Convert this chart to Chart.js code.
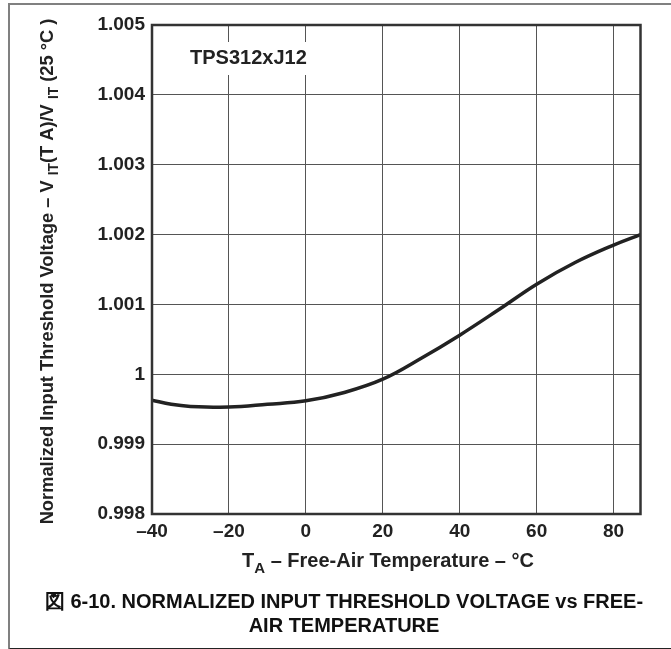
<!DOCTYPE html>
<html>
<head>
<meta charset="utf-8">
<script src="https://cdn.jsdelivr.net/npm/chart.js@4.4.1/dist/chart.umd.min.js"></script>
<style>
  html, body { margin: 0; padding: 0; background: #fff; }
  #wrap { position: relative; width: 671px; height: 649px; overflow: hidden; }
  #frame { position: absolute; left: 8px; top: 3px; width: 680px; height: 643px;
           border-top: 2px solid #808080; border-left: 2px solid #808080; border-bottom: 2px solid #222; }
  canvas { position: absolute; left: 0; top: 0; }
</style>
</head>
<body>
<div id="wrap">
  <div id="frame"></div>
  <canvas id="chart" width="671" height="649"></canvas>
</div>
<script>
// data
var temps = [-40, -35, -30, -20, -10, 0, 10, 20, 30, 40, 50, 60, 70, 80, 87];
var ratio = [0.99963, 0.99957, 0.99954, 0.99953, 0.99957, 0.99962, 0.99974, 0.99993,
             1.00023, 1.00056, 1.00092, 1.00129, 1.00160, 1.00185, 1.00200];

var xTicks = [-40, -20, 0, 20, 40, 60, 80];
var xTickLabels = ['–40', '–20', '0', '20', '40', '60', '80'];
var yTicks = [0.998, 0.999, 1, 1.001, 1.002, 1.003, 1.004, 1.005];
var yTickLabels = ['0.998', '0.999', '1', '1.001', '1.002', '1.003', '1.004', '1.005'];

var deviceName = 'TPS312xJ12';
var captionLines = ['図 6-10. NORMALIZED INPUT THRESHOLD VOLTAGE vs FREE-', 'AIR TEMPERATURE'];

var FONT = '"Liberation Sans", Arial, Helvetica, sans-serif';

// draws text pieces in a row, some of them as subscripts
function drawPieces(ctx, pieces, x, y, size) {
    var total = 0;
    pieces.forEach(function (p) {
        ctx.font = 'bold ' + (p.sub ? size * 0.75 : size) + 'px ' + FONT;
        total += ctx.measureText(p.t).width;
    });
    var cx = x - total / 2;
    pieces.forEach(function (p) {
        ctx.font = 'bold ' + (p.sub ? size * 0.75 : size) + 'px ' + FONT;
        ctx.fillText(p.t, cx, y + (p.sub ? size * 0.3 : 0));
        cx += ctx.measureText(p.t).width;
    });
}

var extras = {
    id: 'extras',
    afterDraw: function (chart) {
        var ctx = chart.ctx;
        var a = chart.chartArea;
        ctx.save();

        // frame round the plot
        ctx.strokeStyle = '#333';
        ctx.lineWidth = 2.5;
        ctx.strokeRect(a.left, a.top, a.right - a.left, a.bottom - a.top);

        // device label on white
        ctx.font = 'bold 20px ' + FONT;
        var w = ctx.measureText(deviceName).width;
        ctx.fillStyle = '#fff';
        ctx.fillRect(184, 42, w + 12, 33);
        ctx.fillStyle = '#222';
        ctx.textBaseline = 'middle';
        ctx.textAlign = 'left';
        ctx.fillText(deviceName, 190, 58);

        // x axis title
        ctx.textBaseline = 'alphabetic';
        drawPieces(ctx, [
            { t: 'T' }, { t: 'A', sub: true }, { t: ' – Free-Air Temperature – °C' }
        ], 388, 567, 20);

        // y axis title
        ctx.save();
        ctx.translate(53, (a.top + a.bottom) / 2 + 2);
        ctx.rotate(-Math.PI / 2);
        drawPieces(ctx, [
            { t: 'Normalized Input Threshold Voltage – V ' }, { t: 'IT', sub: true },
            { t: '(T A)/V ' }, { t: 'IT', sub: true }, { t: ' (25 °C )' }
        ], 0, 0, 18.3);
        ctx.restore();

        // caption
        ctx.fillStyle = '#111';
        ctx.textAlign = 'center';
        ctx.font = 'bold 20px ' + FONT;
        ctx.fillText(captionLines[0], 344, 608);
        ctx.fillText(captionLines[1], 344, 632);
        ctx.restore();
    }
};

var ctx = document.getElementById('chart').getContext('2d');
var chart = new Chart(ctx, {
    type: 'line',
    data: {
        datasets: [{
            data: temps.map(function (t, i) { return { x: t, y: ratio[i] }; }),
            borderColor: '#222',
            borderWidth: 3.5,
            pointRadius: 0,
            tension: 0.4,
            fill: false
        }]
    },
    options: {
        responsive: false,
        animation: false,
        layout: { padding: { left: 0, top: 25, right: 30.5, bottom: 0 } },
        plugins: { legend: { display: false }, tooltip: { enabled: false } },
        scales: {
            x: {
                type: 'linear',
                min: -40,
                max: 87,
                afterBuildTicks: function (s) { s.ticks = xTicks.map(function (v) { return { value: v }; }); },
                afterFit: function (s) { s.height = 649 - 514; },
                grid: { color: '#555', lineWidth: 1, drawTicks: false },
                border: { display: false },
                ticks: {
                    padding: 6,
                    color: '#222',
                    font: { family: FONT, size: 19, weight: 'bold' },
                    maxRotation: 0,
                    callback: function (v) { var i = xTicks.indexOf(v); return i < 0 ? '' : xTickLabels[i]; }
                }
            },
            y: {
                min: 0.998,
                max: 1.005,
                afterBuildTicks: function (s) { s.ticks = yTicks.map(function (v) { return { value: v }; }); },
                afterFit: function (s) { s.width = 152; },
                grid: { color: '#555', lineWidth: 1, drawTicks: false },
                border: { display: false },
                ticks: {
                    padding: 7,
                    color: '#222',
                    font: { family: FONT, size: 19, weight: 'bold' },
                    callback: function (v) {
                        for (var i = 0; i < yTicks.length; i++) {
                            if (Math.abs(yTicks[i] - v) < 1e-7) return yTickLabels[i];
                        }
                        return '';
                    }
                }
            }
        }
    },
    plugins: [extras]
});
</script>
</body>
</html>
